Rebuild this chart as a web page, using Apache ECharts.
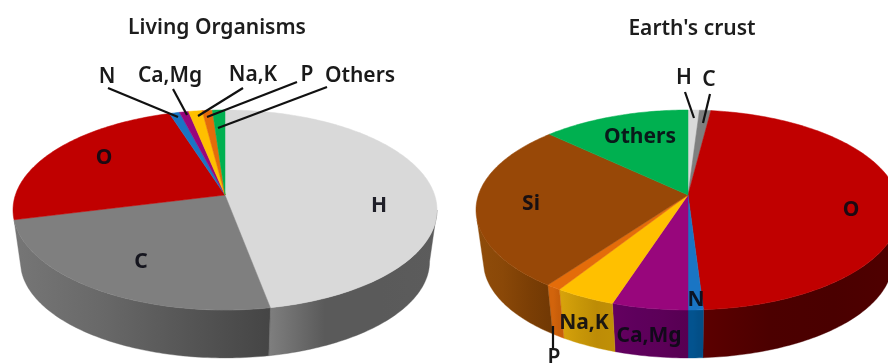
<!DOCTYPE html>
<html>
<head>
<meta charset="utf-8">
<style>html,body{margin:0;padding:0;background:#fff}#chart{width:888px;height:363px;overflow:hidden}</style>
<script src="https://cdn.jsdelivr.net/npm/echarts@6/dist/echarts.min.js"></script>
</head>
<body>
<div id="chart"></div>
<script>
// Element composition, in percent of atoms, clockwise from twelve o'clock.
const livingElements = ['H', 'C', 'O', 'N', 'Ca,Mg', 'Na,K', 'P', 'Others'];
const livingShares = [47, 24, 24, 0.9, 0.8, 1.2, 0.9, 1.1];
const crustElements = ['H', 'C', 'O', 'N', 'Ca,Mg', 'Na,K', 'P', 'Si', 'Others'];
const crustShares = [1, 1, 47, 1, 5, 4, 1, 27, 13];

const topColors = {
  H: '#d9d9d9', C: '#7f7f7f', O: '#c00000', N: '#1a75c4', 'Ca,Mg': '#98067c',
  'Na,K': '#ffc000', P: '#e46c0a', Si: '#984807', Others: '#00b050'
};
const wallColors = {
  H: ['#7f7f7f', '#5a5a5a', '#5a5a5a', '#5c5c5c'],
  C: ['#767676', '#696969', '#565656', '#454545'],
  O: ['#5c0000', '#4c0000', '#4a0000', '#500000'],
  N: ['#03538f', '#03538f', '#034f88', '#034f88'],
  'Ca,Mg': ['#640060', '#5e005c', '#5c0058', '#560052'],
  'Na,K': ['#d9a40c', '#c99808', '#bd8c06', '#c09006'],
  P: ['#d2640c', '#d2640c', '#c85e0a', '#c85e0a'],
  Si: ['#8f4c0a', '#8a4808', '#7c3f05', '#703804'],
  Others: ['#00803a', '#00803a', '#00803a', '#00803a']
};

// Perspective model shared by both discs: a unit circle tilted towards the viewer.
const tilt = 0.15;
const spanX = 209.6;
const spanY = 97.75;
const wallScale = 0.965;
const wallDrop = 52;
const apexY = 195;
const livingApexX = 225;
const crustApexX = 688;
// The side wall is only drawn between the two silhouette points of the rim.
const wallFrom = 0.274;
const wallTo = 0.71;

function buildSlices(apexX, names, shares) {
  const total = shares.reduce((a, b) => a + b, 0);
  let run = 0;
  return names.map((name, i) => {
    const start = run / total;
    run += shares[i];
    return { name, apexX, start, end: run / total };
  });
}
const slices = buildSlices(livingApexX, livingElements, livingShares)
  .concat(buildSlices(crustApexX, crustElements, crustShares));

function rimPoint(apexX, frac, lower) {
  const a = 2 * Math.PI * frac;
  const X = Math.sin(a);
  const Y = -Math.cos(a);
  const w = 1 - tilt * Y;
  const s = lower ? wallScale : 1;
  return [apexX + spanX * s * X / w, apexY + (lower ? wallDrop : 0) + spanY * s * Y / w];
}
function rimArc(apexX, from, to, lower) {
  const n = Math.max(2, Math.ceil((to - from) * 360));
  const pts = [];
  for (let i = 0; i <= n; i++) pts.push(rimPoint(apexX, from + (to - from) * i / n, lower));
  return pts;
}

function renderTop(params, api) {
  const s = slices[params.dataIndex];
  const pts = [[s.apexX, apexY]].concat(rimArc(s.apexX, s.start, s.end, false)).map(p => api.coord(p));
  const c = topColors[s.name];
  return { type: 'polygon', shape: { points: pts }, style: { fill: c, stroke: c, lineWidth: 0.5 } };
}
function renderWall(params, api) {
  const s = slices[params.dataIndex];
  const from = Math.max(s.start, wallFrom);
  const to = Math.min(s.end, wallTo);
  if (to <= from + 1e-6) return null;
  const upper = rimArc(s.apexX, from, to, false);
  const lower = rimArc(s.apexX, from, to, true).reverse();
  const pts = upper.concat(lower).map(p => api.coord(p));
  const shades = wallColors[s.name];
  return {
    type: 'polygon',
    shape: { points: pts },
    style: {
      fill: new echarts.graphic.LinearGradient(0, 0, 1, 0, shades.map((color, i) => ({
        offset: i / (shades.length - 1), color
      }))),
      stroke: shades[1], lineWidth: 0.4
    }
  };
}

// Text placement and leader lines.
const titleTexts = [
  { text: 'Living Organisms', x: 217, y: 28 },
  { text: "Earth's crust", x: 692, y: 29 }
];
const outerLabels = [
  { text: 'N', x: 107, y: 77 }, { text: 'Ca,Mg', x: 170, y: 76 }, { text: 'Na,K', x: 253, y: 75 },
  { text: 'P', x: 307, y: 75 }, { text: 'Others', x: 360, y: 76 },
  { text: 'H', x: 684, y: 78 }, { text: 'C', x: 709, y: 80 }, { text: 'P', x: 554, y: 358 }
];
const innerLabels = [
  { text: 'O', x: 104, y: 158 }, { text: 'H', x: 379, y: 206 }, { text: 'C', x: 141, y: 262 },
  { text: 'Others', x: 640, y: 137 }, { text: 'Si', x: 531, y: 204 }, { text: 'O', x: 851, y: 210 },
  { text: 'N', x: 696, y: 300 }, { text: 'Na,K', x: 584, y: 323 }, { text: 'Ca,Mg', x: 649, y: 336 }
];
const leaders = [
  [108, 88, 178, 117], [173, 89, 187, 115], [243, 88, 198, 116], [297, 82, 207, 117], [327, 87, 218, 128],
  [685, 92, 694, 118], [710, 94, 703, 123], [553, 326, 553, 348]
];

function textEl(api, t, font, fill) {
  const p = api.coord([t.x, t.y]);
  return { type: 'text', style: { text: t.text, x: p[0], y: p[1], font, fill, align: 'center', verticalAlign: 'middle' } };
}

const hiddenAxis = { show: false, type: 'value', min: 0 };
const chart = echarts.init(document.getElementById('chart'), null, { renderer: 'canvas' });
chart.setOption({
  animation: false,
  backgroundColor: '#fff',
  grid: { left: 0, right: 0, top: 0, bottom: 0 },
  xAxis: Object.assign({ max: 888 }, hiddenAxis),
  yAxis: Object.assign({ max: 363, inverse: true }, hiddenAxis),
  series: [
    { type: 'custom', name: 'wall', z: 1, clip: false, silent: true, renderItem: renderWall, data: slices.map(s => [s.apexX, s.end - s.start]) },
    { type: 'custom', name: 'top', z: 2, clip: false, silent: true, renderItem: renderTop, data: slices.map(s => [s.apexX, s.end - s.start]) },
    {
      type: 'custom', name: 'leaders', z: 3, clip: false, silent: true,
      data: leaders,
      renderItem: (params, api) => {
        const l = leaders[params.dataIndex];
        const a = api.coord([l[0], l[1]]);
        const b = api.coord([l[2], l[3]]);
        return { type: 'line', shape: { x1: a[0], y1: a[1], x2: b[0], y2: b[1] }, style: { stroke: '#111', lineWidth: 2.2 } };
      }
    },
    {
      type: 'custom', name: 'text', z: 4, clip: false, silent: true,
      data: [[0, 0]],
      renderItem: (params, api) => ({
        type: 'group',
        children: []
          .concat(titleTexts.map(t => textEl(api, t, '600 21px "Noto Sans"', '#1d1d1d')))
          .concat(outerLabels.map(t => textEl(api, t, '600 21px "Noto Sans"', '#1a1a1a')))
          .concat(innerLabels.map(t => textEl(api, t, '700 21px "Noto Sans"', 'rgba(10,10,20,0.9)')))
      })
    }
  ]
});
</script>
</body>
</html>
